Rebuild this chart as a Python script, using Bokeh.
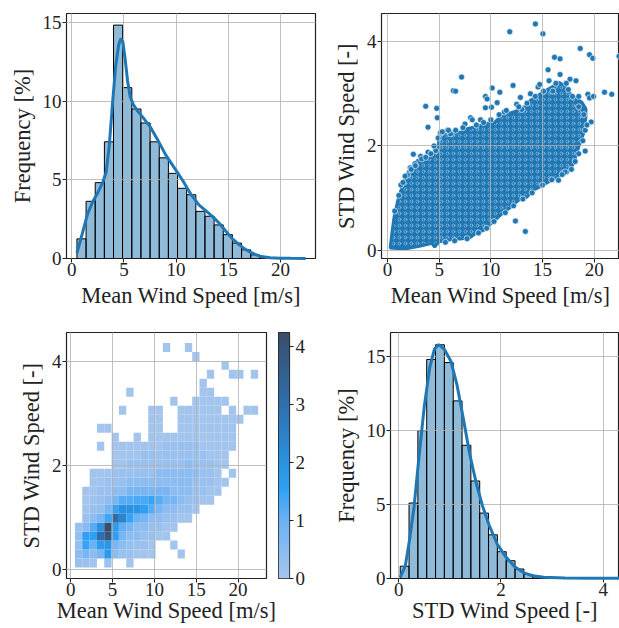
import numpy as np
from bokeh.plotting import figure
from bokeh.layouts import column, row
from bokeh.models import FixedTicker, Range1d, LinearColorMapper, ColumnDataSource
from bokeh.embed import file_html
from bokeh.resources import INLINE

# ---------------- data ----------------
# Mean wind speed histogram (percent), 25 bins over [0.5, 22.4]
ws_min, ws_max, ws_nbins = 0.5, 22.4, 25
ws_hist_pct = [1.25, 3.64, 4.83, 7.43, 14.86, 10.88, 9.52, 8.63, 7.43, 6.41,
               5.42, 4.47, 4.06, 3.00, 2.69, 2.14, 1.52, 0.98, 0.55, 0.23,
               0.07, 0.03, 0.02, 0.01, 0.01]
ws_kde_x = [0.5, 1.0, 1.5, 2.0, 2.5, 3.0, 3.3, 3.6, 3.9, 4.2, 4.5, 4.7, 4.9, 5.1,
            5.35, 5.6, 5.9, 6.3, 6.8, 7.5, 8.2, 9.0, 9.8, 10.6, 11.4, 12.2, 13.0,
            13.6, 14.2, 14.8, 15.4, 16.0, 16.6, 17.2, 18.0, 19.0, 20.0, 21.0, 22.4]
ws_kde_y = [0.35, 1.55, 2.8, 3.6, 4.2, 4.9, 5.5, 7.2, 9.8, 12.2, 13.6, 14.0, 13.8,
            12.8, 11.3, 10.3, 9.8, 9.4, 9.0, 8.4, 7.6, 6.6, 5.8, 5.0, 4.1, 3.4,
            2.95, 2.6, 2.2, 1.7, 1.25, 0.9, 0.6, 0.37, 0.15, 0.05, 0.02, 0.01, 0.0]

# STD wind speed histogram (percent), 25 bins over [0.03, 4.35]
sd_min, sd_max, sd_nbins = 0.03, 4.35, 25
sd_hist_pct = [0.83, 5.10, 9.99, 14.8, 15.79, 14.59, 12.0, 9.0, 6.59, 4.42,
               2.95, 1.81, 1.2, 0.64, 0.28, 0.11, 0.05, 0.02, 0.01, 0.01,
               0.0, 0.0, 0.0, 0.0, 0.01]
sd_kde_x = [0.03, 0.13, 0.21, 0.3, 0.39, 0.5, 0.61, 0.7, 0.78, 0.89, 1.02, 1.14,
            1.27, 1.39, 1.52, 1.64, 1.77, 1.93, 2.1, 2.27, 2.44, 2.62, 2.84, 3.25,
            3.8, 4.35]
sd_kde_y = [0.08, 0.86, 2.55, 4.8, 7.96, 11.6, 14.3, 15.5, 15.8, 15.5, 14.7, 13.1,
            10.7, 8.4, 6.4, 4.9, 3.6, 2.3, 1.45, 0.8, 0.4, 0.18, 0.08, 0.04, 0.02,
            0.01]

# Scatter: dense cloud outline (mean, std) plus individual points
cloud_x = [0.26, 1.0, 1.93, 3.2, 4.3, 4.56, 5.0, 6.1, 7.2, 8.0, 8.5, 9.3, 9.97, 10.6,
           11.1, 11.9, 12.7, 13.5, 14.1, 14.8, 15.6, 16.4, 17.4, 18.0, 18.3, 18.6,
           18.96, 19.2, 19.2, 18.8, 18.3, 17.7, 17.1, 16.6, 15.9, 15.3, 14.8, 13.8,
           13.2, 12.2, 11.6, 10.9, 10.4, 9.8, 9.0, 8.3, 7.7, 7.1, 6.4, 5.6, 5.0, 4.9,
           4.3, 3.5, 2.9, 2.4, 1.9, 1.4, 1.0, 0.64, 0.42]
cloud_y = [0.04, 0.03, 0.03, 0.08, 0.13, 0.06, 0.16, 0.2, 0.22, 0.24, 0.32, 0.38, 0.5,
           0.61, 0.7, 0.82, 0.96, 1.02, 1.15, 1.22, 1.31, 1.4, 1.48, 1.66, 1.85, 2.04,
           2.23, 2.55, 2.71, 2.84, 2.9, 3.0, 3.16, 3.22, 3.13, 3.06, 3.0, 2.87, 2.74,
           2.65, 2.62, 2.55, 2.46, 2.44, 2.39, 2.36, 2.33, 2.26, 2.26, 2.28, 2.25, 1.98,
           1.79, 1.74, 1.72, 1.6, 1.47, 1.21, 0.96, 0.64, 0.32]
pts_x = [11.83, 14.31, 15.04, 18.65, 19.55, 19.87, 22.41, 15.54, 16.16, 16.70, 16.70,
         17.66, 18.24, 7.17, 6.37, 6.59, 3.70, 4.76, 4.82, 3.92, 10.13, 12.15, 9.48,
         9.64, 9.48, 10.06, 10.61, 10.87, 8.04, 8.2, 12.86, 13.83, 14.57, 14.73, 15.63,
         21.0, 21.7, 19.39, 19.55, 19.94, 19.7, 19.13, 19.13, 18.16, 17.2, 16.55, 12.38,
         13.34, 2.5, 2.66, 1.93, 3.92, 4.66, 5.14, 6.1, 11.3, 12.5, 13.0, 16.0, 17.3,
         18.5, 17.9, 9.0, 7.5, 5.8, 2.2, 1.3, 3.2,
         0.7, 1.1, 1.5, 1.7, 2.3, 2.7, 3.3, 3.7, 4.2, 4.5, 4.9, 5.3, 5.9, 6.6, 7.3,
         8.6, 9.3, 10.0, 10.8, 11.5, 12.7, 13.5, 14.3, 15.1, 16.3, 17.5, 18.5, 19.0,
         19.3, 18.9, 18.5, 17.8, 16.9, 15.9, 15.0, 14.0, 13.1, 12.2, 11.4, 10.3, 9.6,
         8.8, 7.7, 6.5, 5.6]
pts_y = [4.19, 4.34, 4.15, 3.87, 3.75, 3.68, 3.72, 3.46, 3.70, 3.67, 3.37, 3.28, 3.25,
         3.32, 3.06, 3.05, 2.76, 2.72, 2.54, 2.36, 3.11, 3.16, 2.95, 2.90, 2.73, 2.74,
         2.83, 3.03, 2.54, 2.50, 2.93, 3.00, 3.13, 3.18, 3.25, 3.03, 2.99, 2.99, 2.92,
         2.95, 2.46, 2.30, 1.90, 1.70, 1.5, 1.34, 0.56, 0.36, 1.84, 1.66, 1.44, 1.88,
         1.91, 2.25, 2.23, 2.65, 2.8, 2.7, 3.05, 3.2, 2.75, 2.95, 2.5, 2.42, 2.3, 1.58,
         1.25, 1.8,
         0.75, 1.05, 1.3, 1.42, 1.55, 1.62, 1.75, 1.78, 1.85, 2.0, 2.15, 2.27, 2.3, 2.3,
         2.35, 2.4, 2.45, 2.5, 2.6, 2.68, 2.75, 2.82, 2.95, 3.05, 3.2, 3.08, 2.95, 2.6,
         2.4, 2.1, 1.85, 1.55, 1.45, 1.35, 1.25, 1.1, 0.98, 0.85, 0.72, 0.55, 0.42,
         0.33, 0.22, 0.18, 0.15]

# 2-D histogram (percent); rows = STD bins (bottom->top), cols = mean bins
h2d_pct = [
    [.2, .2, .05, 0, .2, 0, 0, .05, 0, 0, 0, 0, 0, 0, 0, 0, 0, 0, 0, 0, 0, 0, 0, 0, 0],
    [.45, .8, .45, .8, 1.8, .45, .2, .2, .05, .05, .05, 0, 0, 0, .05, 0, 0, 0, 0, 0, 0, 0, 0, 0, 0],
    [.3, 1.5, 1.0, 1.7, 1.9, .8, .45, .3, .2, .2, .05, 0, 0, .05, 0, 0, 0, 0, 0, 0, 0, 0, 0, 0, 0],
    [.3, 1.6, 1.6, 3.0, 3.9, 1.6, .8, .45, .45, .2, .2, .05, .05, 0, 0, 0, 0, 0, 0, 0, 0, 0, 0, 0, 0],
    [.2, .5, 1.2, 2.0, 4.2, 1.7, 1.1, .8, .45, .45, .2, .2, .05, .05, 0, 0, 0, 0, 0, 0, 0, 0, 0, 0, 0],
    [0, .2, .45, .8, 1.4, 3.1, 2.4, 1.5, 1.0, .8, .45, .45, .2, .2, .05, .05, 0, 0, 0, 0, 0, 0, 0, 0, 0],
    [0, .05, .2, .3, .8, 1.5, 2.0, 2.0, 1.9, 1.6, 1.2, .8, .45, .45, .2, .2, .05, 0, 0, 0, 0, 0, 0, 0, 0],
    [0, .05, .1, .2, .45, .8, 1.2, 1.2, 1.3, 1.3, 1.5, 1.2, .8, .8, .45, .2, .2, .05, .05, 0, 0, 0, 0, 0, 0],
    [0, .05, .05, .2, .2, .45, .45, .8, .8, .8, .8, .8, .8, .45, .45, .45, .2, .2, .05, .05, 0, 0, 0, 0, 0],
    [0, 0, .05, .05, .2, .2, .2, .45, .45, .45, .45, .45, .45, .45, .45, .45, .2, .2, .2, .05, .05, 0, 0, 0, 0],
    [0, 0, .05, .05, .05, .2, .2, .2, .2, .2, .2, .45, .45, .45, .45, .45, .45, .2, .2, .05, 0, .05, 0, 0, 0],
    [0, 0, 0, 0, 0, .05, .05, .2, .2, .2, .2, .2, .2, .2, .2, .45, .2, .2, .2, .05, .05, 0, 0, 0, 0],
    [0, 0, 0, 0, 0, .05, .05, .05, .05, .2, .2, .2, .2, .2, .2, .2, .2, .2, .05, .05, .05, 0, 0, 0, 0],
    [0, 0, 0, .05, 0, .05, .05, .05, .05, .05, .05, .05, .2, .2, .2, .2, .2, .05, .05, .05, .05, .05, 0, 0, 0],
    [0, 0, 0, 0, 0, .05, 0, 0, .05, 0, .05, .05, .05, .05, .05, .05, .05, .05, .05, .05, .05, .05, 0, 0, 0],
    [0, 0, 0, .05, .05, 0, 0, 0, 0, 0, .05, .05, 0, 0, .05, .05, .05, .05, .05, .05, .05, .05, 0, 0, 0],
    [0, 0, 0, 0, 0, 0, 0, 0, 0, 0, .05, .05, 0, 0, .05, .05, .05, .05, .05, .05, .05, .05, .05, 0, 0],
    [0, 0, 0, 0, 0, 0, .05, 0, 0, 0, .05, .05, 0, 0, .05, .05, .05, .05, .05, .05, 0, .05, 0, .05, .05],
    [0, 0, 0, 0, 0, 0, 0, 0, 0, 0, 0, 0, 0, .05, 0, 0, .05, .05, .05, .05, .05, 0, 0, 0, 0],
    [0, 0, 0, 0, 0, 0, 0, .05, 0, 0, 0, 0, 0, 0, 0, 0, 0, .05, .05, 0, 0, 0, 0, 0, 0],
    [0, 0, 0, 0, 0, 0, 0, 0, 0, 0, 0, 0, 0, 0, 0, 0, 0, .05, 0, 0, 0, 0, 0, 0, 0],
    [0, 0, 0, 0, 0, 0, 0, 0, 0, 0, 0, 0, 0, 0, 0, 0, 0, 0, .05, 0, 0, .05, .05, 0, .05],
    [0, 0, 0, 0, 0, 0, 0, 0, 0, 0, 0, 0, 0, 0, 0, 0, 0, 0, 0, 0, .05, 0, 0, 0, 0],
    [0, 0, 0, 0, 0, 0, 0, 0, 0, 0, 0, 0, 0, 0, 0, 0, .05, 0, 0, 0, 0, 0, 0, 0, 0],
    [0, 0, 0, 0, 0, 0, 0, 0, 0, 0, 0, 0, .05, 0, 0, .05, 0, 0, 0, 0, 0, 0, 0, 0, 0],
]
cbar_max = 4.24

ws_ticks = [0, 5, 10, 15, 20]
freq_ticks1 = [0, 5, 10, 15]
sd_ticks = [0, 2, 4]
cbar_ticks = [0, 1, 2, 3, 4]

# ---------------- style ----------------
FONT = "Liberation Serif"
TICK = "19px"
LAB = "22.5px"
INK = "#222222"
BLUE = "#1f77b4"


def style(p, xticks, yticks, xlabel, ylabel, xlab_standoff):
    p.xaxis.ticker = FixedTicker(ticks=xticks)
    p.yaxis.ticker = FixedTicker(ticks=yticks)
    p.xaxis.axis_label = xlabel
    p.yaxis.axis_label = ylabel
    for ax in p.axis:
        ax.axis_line_color = None
        ax.major_tick_line_color = INK
        ax.major_tick_out = 4
        ax.major_tick_in = 0
        ax.minor_tick_line_color = None
        ax.major_label_text_font = FONT
        ax.major_label_text_font_size = TICK
        ax.major_label_text_color = INK
        ax.axis_label_text_font = FONT
        ax.axis_label_text_font_size = LAB
        ax.axis_label_text_font_style = "normal"
        ax.axis_label_text_color = INK
    p.xaxis.major_label_standoff = 0
    p.xaxis.axis_label_standoff = xlab_standoff
    p.yaxis.major_label_standoff = 1
    p.yaxis.axis_label_standoff = 5
    p.outline_line_color = INK
    p.outline_line_width = 1.2
    p.outline_line_alpha = 1
    p.grid.grid_line_color = "#b0b0b0"
    p.grid.grid_line_width = 1
    p.grid.grid_line_alpha = 0.8
    p.grid.level = "annotation"
    p.background_fill_color = "white"
    p.border_fill_color = "white"


def fig(w, h, xr, yr, bl, br, bt, bb):
    return figure(width=w, height=h, x_range=Range1d(*xr), y_range=Range1d(*yr),
                  min_border_left=bl, min_border_right=br, min_border_top=bt,
                  min_border_bottom=bb, output_backend="svg", toolbar_location=None)


ws_edges = np.linspace(ws_min, ws_max, ws_nbins + 1)
sd_edges = np.linspace(sd_min, sd_max, sd_nbins + 1)

# Panel 1: mean wind speed histogram
p1 = fig(330, 320, (-0.5, 23.35), (0, 15.6), 66, 15, 13, 62)
p1.quad(left=ws_edges[:-1], right=ws_edges[1:], bottom=0, top=ws_hist_pct,
        fill_color=BLUE, fill_alpha=0.5, line_color="black", line_width=1)
p1.line(ws_kde_x, ws_kde_y, line_color=BLUE, line_width=3, level="overlay")
style(p1, ws_ticks, freq_ticks1, "Mean Wind Speed [m/s]", "Frequency [%]", 4)

# Panel 2: scatter
p2 = fig(289, 320, (-0.58, 22.45), (-0.16, 4.54), 51, 0, 13, 62)
p2.patch(cloud_x, cloud_y, fill_color=BLUE, line_color=BLUE, line_width=3,
         hatch_pattern="o", hatch_color="white", hatch_alpha=0.5,
         hatch_scale=6, hatch_weight=0.7)
p2.scatter(pts_x, pts_y, size=6, fill_color=BLUE, line_color="white", line_width=0.6)
style(p2, ws_ticks, sd_ticks, "Mean Wind Speed [m/s]", "STD Wind Speed [-]", 4)

# Panel 3: 2-D histogram
anchors_v = [0.0, 1.0, 1.55, 2.1, 3.0, cbar_max]
anchors_c = ["#a6c5ed", "#6cb1f4", "#2ea1f5", "#2a8fdd", "#2f70ad", "#3a4d68"]


def hex2rgb(h):
    return [int(h[i:i + 2], 16) for i in (1, 3, 5)]


grid_v = np.linspace(0, cbar_max, 256)
rgb = np.array([hex2rgb(c) for c in anchors_c], dtype=float)
pal = []
for v in grid_v:
    r = np.interp(v, anchors_v, rgb[:, 0])
    g = np.interp(v, anchors_v, rgb[:, 1])
    b = np.interp(v, anchors_v, rgb[:, 2])
    pal.append("#%02x%02x%02x" % (int(round(r)), int(round(g)), int(round(b))))
mapper = LinearColorMapper(palette=pal, low=0, high=cbar_max)

L, R, B, T, V = [], [], [], [], []
for j, rowv in enumerate(h2d_pct):
    for i, v in enumerate(rowv):
        if v > 0:
            L.append(ws_edges[i]); R.append(ws_edges[i + 1])
            B.append(sd_edges[j]); T.append(sd_edges[j + 1]); V.append(v)
src2d = ColumnDataSource(dict(left=L, right=R, bottom=B, top=T, v=V))

p3 = fig(278, 308, (-0.51, 23.4), (-0.18, 4.55), 66, 12, 12, 50)
p3.quad(left="left", right="right", bottom="bottom", top="top", line_color=None,
        fill_color={"field": "v", "transform": mapper}, source=src2d)
style(p3, ws_ticks, sd_ticks, "Mean Wind Speed [m/s]", "STD Wind Speed [-]", -1)

# colour bar as its own small figure
pcb = figure(width=52, height=308, x_range=Range1d(0, 1), y_range=Range1d(0, cbar_max),
             min_border_left=0, min_border_right=41, min_border_top=12,
             min_border_bottom=50, output_backend="svg", toolbar_location=None,
             x_axis_location=None, y_axis_location="right")
pcb.image(image=[grid_v.reshape(-1, 1)], x=0, y=0, dw=1, dh=cbar_max, color_mapper=mapper)
pcb.yaxis.ticker = FixedTicker(ticks=cbar_ticks)
pcb.yaxis.axis_line_color = None
pcb.yaxis.major_tick_line_color = INK
pcb.yaxis.major_tick_out = 4
pcb.yaxis.major_tick_in = 0
pcb.yaxis.minor_tick_line_color = None
pcb.yaxis.major_label_text_font = FONT
pcb.yaxis.major_label_text_font_size = TICK
pcb.yaxis.major_label_text_color = INK
pcb.yaxis.major_label_standoff = 2
pcb.grid.visible = False
pcb.outline_line_color = INK
pcb.outline_line_width = 1.2
pcb.border_fill_color = "white"

# Panel 4: STD histogram
p4 = fig(289, 308, (-0.16, 4.32), (0, 16.62), 51, 0, 12, 50)
p4.quad(left=sd_edges[:-1], right=sd_edges[1:], bottom=0, top=sd_hist_pct,
        fill_color=BLUE, fill_alpha=0.5, line_color="black", line_width=1)
p4.line(sd_kde_x, sd_kde_y, line_color=BLUE, line_width=3, level="overlay")
style(p4, sd_ticks, freq_ticks1, "STD Wind Speed [-]", "Frequency [%]", -1)

layout = column(row(p1, p2), row(p3, pcb, p4))
open("out.html", "w").write(file_html(layout, INLINE))
